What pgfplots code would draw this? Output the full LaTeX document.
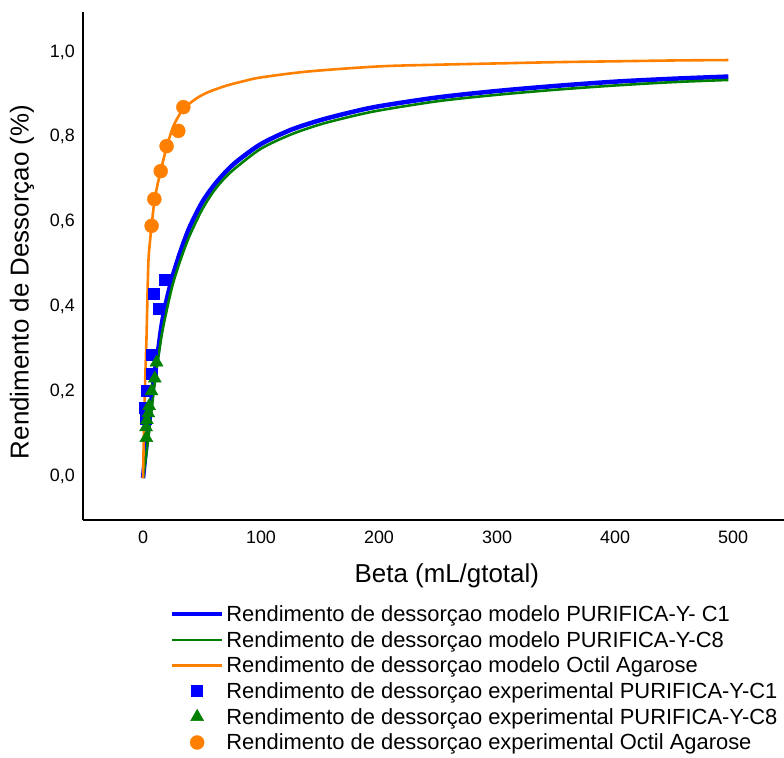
\documentclass[border=0pt]{standalone}
\usepackage{pgfplots}
\pgfplotsset{compat=1.18}
\usepackage{fontspec}
\setmainfont{Liberation Sans}
\definecolor{cblue}{RGB}{0,0,255}
\definecolor{cgreen}{RGB}{0,128,0}
\definecolor{corange}{RGB}{255,128,0}
\begin{document}
\begin{tikzpicture}
\path[use as bounding box] (0,0) rectangle (784bp,758bp);
\begin{axis}[
  at={(83bp,238bp)}, anchor=south west,
  scale only axis, width=701bp, height=508bp,
  xmin=-50.85, xmax=543.2, ymin=-0.1038, ymax=1.0943,
  axis x line=bottom, axis y line=left,
  axis line style={-, line width=1.6bp, black},
  xtick={0,100,200,300,400,500},
  ytick={0,0.2,0.4,0.6,0.8,1.0},
  major tick length=0pt,
  /pgf/number format/assume math mode=true,
  tick label style={font=\fontsize{18}{21}\selectfont, inner sep=0pt},
  xticklabel style={anchor=center, yshift=-17bp, /pgf/number format/.cd, fixed, precision=0},
  yticklabel style={anchor=east, xshift=-8bp, /pgf/number format/.cd, use comma, fixed, fixed zerofill, precision=1},
  xlabel={Beta (mL/gtotal)},
  ylabel={Rendimento de Dessorçao (\%)},
  label style={font=\fontsize{26}{31}\selectfont},
  xlabel style={at={(axis description cs:0.519,-0.110)}, anchor=center},
  ylabel style={at={(axis description cs:-0.087,0.4685)}, anchor=center, rotate=0},
  legend image code/.code={\draw[mark repeat=2,mark phase=2,#1] plot coordinates {(0bp,0bp) (25bp,0bp) (50bp,0bp)};},
  legend cell align=left,
  legend style={at={(axis description cs:0.124,-0.1644)}, anchor=north west, draw=none, fill=none,
    inner sep=0pt, outer sep=0pt, font=\fontsize{22}{26}\selectfont, row sep=4.3bp, column sep=0bp},
]
% model curves
\addplot[cblue, line width=4.5bp, smooth] table {
x y
0 -0.005
2 0.05
4 0.10
6 0.15
8 0.20
10 0.245
13 0.30
16 0.36
20 0.415
25 0.47
30 0.515
35 0.555
40 0.59
50 0.645
60 0.685
70 0.717
80 0.743
100 0.783
125 0.816
150 0.839
175 0.857
200 0.872
250 0.893
300 0.908
350 0.92
400 0.93
450 0.937
496 0.942
};
\addlegendentry{Rendimento de dessorçao modelo PURIFICA-Y- C1}
\addplot[cgreen, line width=2.6bp, smooth] table {
x y
0 -0.005
2 0.035
4 0.08
6 0.125
8 0.175
10 0.22
13 0.28
16 0.335
20 0.39
25 0.45
30 0.495
35 0.535
40 0.57
50 0.628
60 0.672
70 0.705
80 0.73
100 0.772
125 0.805
150 0.829
175 0.847
200 0.862
250 0.884
300 0.899
350 0.911
400 0.921
450 0.929
496 0.934
};
\addlegendentry{Rendimento de dessorçao modelo PURIFICA-Y-C8}
\addplot[corange, line width=2.6bp, smooth] table {
x y
0 -0.005
1 0.13
2 0.24
3 0.33
4.5 0.50
6 0.555
7.3 0.59
10 0.655
15 0.72
20 0.775
25 0.82
30 0.848
35 0.868
45 0.89
55 0.905
70 0.92
85 0.931
100 0.94
140 0.954
200 0.966
250 0.970
300 0.973
350 0.976
400 0.978
450 0.980
496 0.981
};
\addlegendentry{Rendimento de dessorçao modelo Octil Agarose}
% experimental points
\addplot[only marks, mark=square*, mark size=5.5bp, cblue] table {
x y
1.5 0.16
2.5 0.135
3.0 0.200
7.0 0.285
7.6 0.242
8.8 0.430
13.0 0.395
18.5 0.462
};
\addlegendentry{Rendimento de dessorçao experimental PURIFICA-Y-C1}
\addplot[only marks, mark=triangle*, mark size=7.5bp, cgreen] table {
x y
11.5 0.268
10.0 0.230
7.2 0.200
5.2 0.165
4.5 0.148
3.3 0.132
2.6 0.115
2.8 0.090
};
\addlegendentry{Rendimento de dessorçao experimental PURIFICA-Y-C8}
\addplot[only marks, mark=*, mark size=7bp, corange] table {
x y
7.3 0.590
9.6 0.653
15.0 0.719
20.0 0.778
29.9 0.814
34.2 0.870
};
\addlegendentry{Rendimento de dessorçao experimental Octil Agarose}
\end{axis}
\end{tikzpicture}
\end{document}
